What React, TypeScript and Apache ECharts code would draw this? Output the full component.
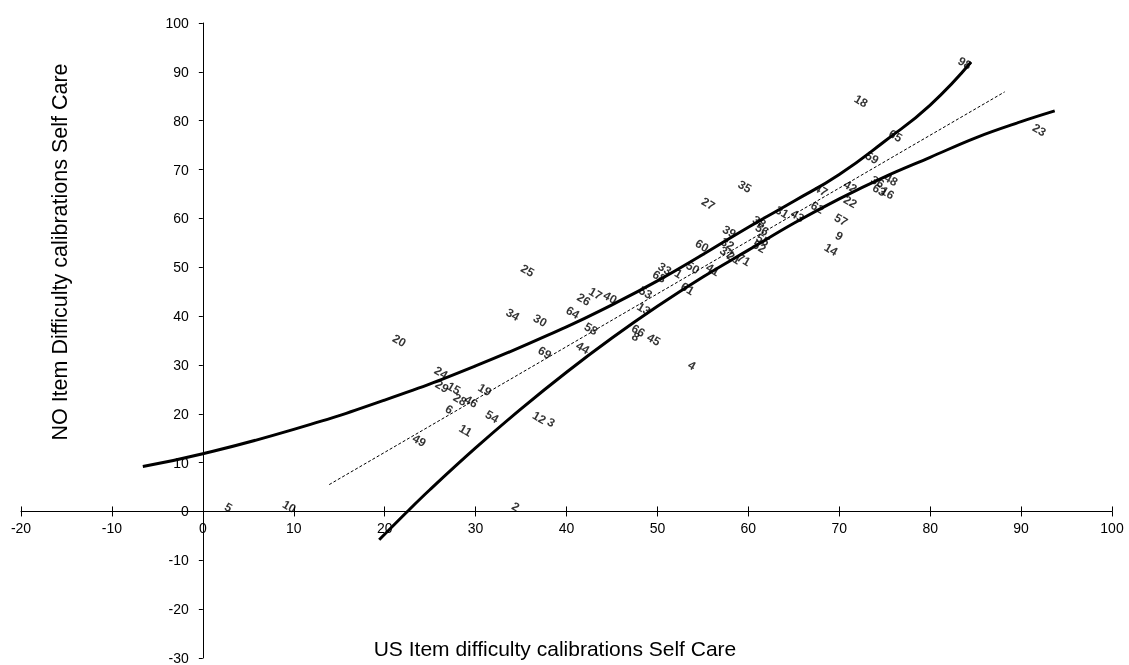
import React, { useEffect, useRef } from "react";
import * as echarts from "echarts";

const itemLabels = ["98","18","23","65","59","35","47","42","22","36","48","63","16","57","9","14","27","31","43","62","38","56","55","52","60","39","32","37","21","71","41","50","1","33","68","61","53","13","17","40","26","64","25","34","30","58","44","69","20","24","29","15","28","46","19","6","54","11","49","12","3","66","8","45","4","5","10","2"];
const usDifficulty = [83.8,72.4,92.0,76.2,73.6,59.6,68.0,71.2,71.2,74.2,75.7,74.4,75.3,70.2,70.0,69.1,55.6,63.7,65.4,67.6,61.2,61.5,61.6,61.2,54.9,57.9,57.7,57.6,58.4,59.5,56.1,53.9,52.3,50.8,50.2,53.3,48.7,48.5,43.2,44.8,41.9,40.7,35.7,34.1,37.1,42.7,41.8,37.6,21.6,26.2,26.3,27.6,28.3,29.5,31.0,27.1,31.8,28.9,23.8,37.0,38.3,47.9,47.6,49.6,53.8,2.8,9.5,34.4];
const noDifficulty = [91.8,84.0,78.1,76.9,72.4,66.5,65.8,66.5,63.4,67.5,67.9,65.8,65.2,59.7,56.4,53.6,63.0,61.3,60.5,62.2,59.3,57.7,55.6,54.2,54.4,57.3,54.8,53.0,51.9,51.5,49.5,49.9,48.7,49.7,48.1,45.6,44.8,41.5,44.6,43.8,43.4,40.7,49.3,40.3,39.1,37.4,33.5,32.5,35.0,28.4,25.6,25.2,22.9,22.5,24.9,20.9,19.4,16.6,14.5,19.2,18.2,37.0,35.8,35.2,29.9,0.8,1.0,1.0];

const upperBandX = [-6.6, 0, 10, 20, 30, 40, 45, 50, 55, 60, 65, 70, 75, 80, 84.5];
const upperBandY = [9.2, 11.8, 16.8, 22.8, 29.8, 37.8, 42.3, 47.2, 52.6, 58.2, 63.5, 69.0, 75.8, 83.2, 92.0];
const lowerBandX = [19.4, 22.5, 25, 30, 35, 40, 45, 50, 55, 60, 65, 70, 75, 80, 85, 90, 93.7];
const lowerBandY = [-5.8, 0, 4.5, 13, 21, 28.5, 35.5, 42, 48, 53.5, 59, 64, 68.5, 72.5, 76.5, 79.8, 82];
const fitLineX = [13.9, 88.2];
const fitLineY = [5.5, 85.9];

const xRange = [-20, 100];
const yRange = [-30, 100];
const tickStep = 10;

const xTitle = "US Item difficulty calibrations Self Care";
const yTitle = "NO Item Difficulty calibrations Self Care";

const W = 1129;
const H = 665;
const GRID = { left: 21, right: 17, top: 23, bottom: 7 };

export default function App() {
  const ref = useRef<HTMLDivElement>(null);
  useEffect(() => {
    const chart = echarts.init(ref.current!, null, { renderer: "svg" });
    const font = "Arial, 'Liberation Sans', sans-serif";
    const black = "#000";
    const gridW = W - GRID.left - GRID.right;
    const gridH = H - GRID.top - GRID.bottom;
    // shift axes inward so that they cross at the origin (0, 0)
    const xAxisOffset = -gridH * (0 - yRange[0]) / (yRange[1] - yRange[0]);
    const yAxisOffset = -gridW * (0 - xRange[0]) / (xRange[1] - xRange[0]);
    const line = (xs: number[], ys: number[], width: number, type: any, smooth: number) => ({
      type: "line",
      data: xs.map((x, i) => [x, ys[i]]),
      showSymbol: false,
      symbol: "none",
      smooth,
      lineStyle: { color: black, width, type },
      z: 3,
    });
    const baseX = {
      type: "value", min: xRange[0], max: xRange[1], interval: tickStep, position: "bottom",
      offset: xAxisOffset,
      splitLine: { show: false },
    };
    chart.setOption({
      animation: false,
      grid: { ...GRID, outerBoundsMode: "none", containLabel: false },
      xAxis: [
        {
          ...baseX,
          axisLine: { show: true, onZero: false, lineStyle: { color: black, width: 1 } },
          axisTick: { show: true, length: 5, lineStyle: { color: black } },
          axisLabel: { color: black, fontSize: 14, fontFamily: font, margin: 10 },
        },
        {
          ...baseX,
          axisLine: { show: false, onZero: false },
          axisTick: { show: true, inside: true, length: 5, lineStyle: { color: black } },
          axisLabel: { show: false },
        },
      ],
      yAxis: {
        type: "value", min: yRange[0], max: yRange[1], interval: tickStep, position: "left",
        offset: yAxisOffset,
        axisLine: { show: true, onZero: false, lineStyle: { color: black, width: 1 } },
        axisTick: { show: true, length: 4, lineStyle: { color: black } },
        axisLabel: { color: black, fontSize: 14, fontFamily: font, margin: 14 },
        splitLine: { show: false },
      },
      graphic: [
        {
          type: "text", x: 555, y: 648,
          style: { text: xTitle, font: `21px ${font}`, fill: black, textAlign: "center", textVerticalAlign: "middle", align: "center", verticalAlign: "middle" },
        },
        {
          type: "text", x: 60, y: 252, rotation: Math.PI / 2,
          style: { text: yTitle, font: `21.5px ${font}`, fill: black, textAlign: "center", textVerticalAlign: "middle", align: "center", verticalAlign: "middle" },
        },
      ],
      series: [
        line(upperBandX, upperBandY, 3, "solid", 0.5),
        line(lowerBandX, lowerBandY, 3, "solid", 0.4),
        line(fitLineX, fitLineY, 1, [3, 2], 0),
        {
          type: "scatter",
          data: usDifficulty.map((x, i) => ({ value: [x, noDifficulty[i]], name: itemLabels[i] })),
          symbolSize: 1,
          itemStyle: { color: "rgba(0,0,0,0)" },
          label: { show: true, position: "inside", formatter: "{b}", rotate: -30, fontSize: 12, fontWeight: "bold", color: black, fontFamily: font },
          z: 5,
        },
      ],
    });
    return () => chart.dispose();
  }, []);
  return <div ref={ref} style={{ position: "fixed", left: 0, top: 0, width: W, height: H }} />;
}
